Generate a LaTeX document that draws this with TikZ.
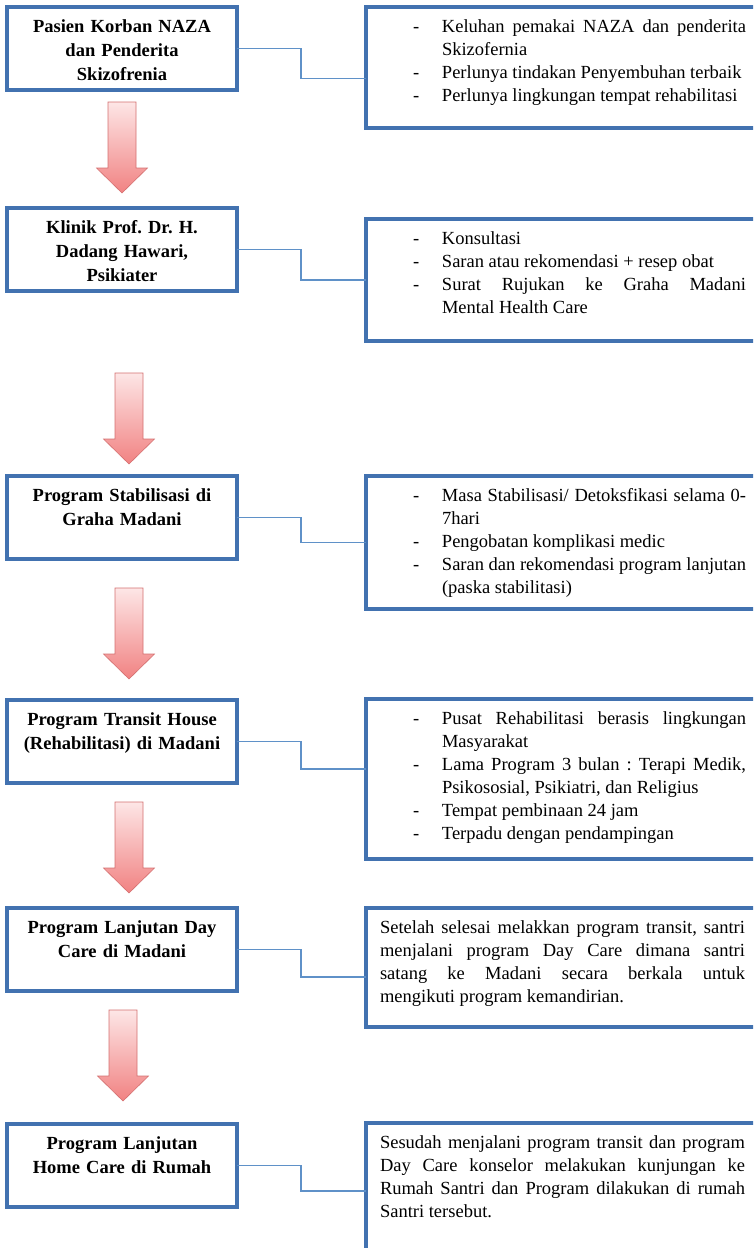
\documentclass[tikz,border=0pt]{standalone}
\usepackage{fontspec}
\setmainfont{Liberation Serif}
\usetikzlibrary{calc,positioning}
\definecolor{boxblue}{RGB}{66,114,176}
\definecolor{lnkblue}{RGB}{95,145,200}
\definecolor{arrtop}{RGB}{253,230,230}
\definecolor{arrbot}{RGB}{241,130,130}
\definecolor{arredge}{RGB}{212,112,112}
\hyphenpenalty=10000
\exhyphenpenalty=10000
\frenchspacing
% one dash item of a list box
\newcommand{\ditem}[1]{\hangindent=29pt\hangafter=1\makebox[29pt][l]{-}#1\par}
% one block arrow: name, x of its axis, top of its shaft
\newcommand{\flowarrow}[3]{%
  \coordinate (#1) at (#2,#3);
  \shade[flow] ($(#1)+(-14,0)$) -- ++(28,0) -- ++(0,66) -- ++(11.5,0)
    -- ++(-25.5,25) -- ++(-25.5,-25) -- ++(11.5,0) -- cycle;}

\begin{document}
\begin{tikzpicture}[x=1pt, y=-1pt,
  font=\fontsize{18.5}{23}\selectfont\frenchspacing,
  lbox/.style={draw=boxblue, line width=3.3pt, anchor=north west, outer sep=0pt,
               inner xsep=2pt, inner ysep=0pt, text width=226pt, align=center,
               font=\fontsize{18.5}{24}\selectfont\frenchspacing\bfseries,
               text height=25pt, text depth=58pt},
  rbox/.style={draw=boxblue, line width=3.3pt, anchor=north west, outer sep=0pt,
               inner xsep=47pt, inner ysep=0pt, text width=333pt, align=justify,
               text height=25pt},
  pbox/.style={rbox, inner xsep=14pt, text width=365pt},
  link/.style={draw=lnkblue, line width=1.3pt},
  flow/.style={top color=arrtop, bottom color=arrbot, draw=arredge, line width=0.6pt},
]
\useasboundingbox (0,0) rectangle (753,1248);
\clip (0,0) rectangle (753,1248);

% ---------- steps ----------
\node[lbox] (l1) at (7,7)    {Pasien Korban NAZA\\dan Penderita\\Skizofrenia};
\node[lbox] (l2) at (7,208)  {Klinik Prof. Dr. H.\\Dadang Hawari,\\Psikiater};
\node[lbox] (l3) at (7,476)  {Program Stabilisasi di\\Graha Madani};
\node[lbox] (l4) at (7,700)  {Program Transit House\\(Rehabilitasi) di Madani};
\node[lbox] (l5) at (7,908)  {Program Lanjutan Day\\Care di Madani};
\node[lbox] (l6) at (7,1124) {Program Lanjutan\\Home Care di Rumah};

% ---------- arrows between steps ----------
\flowarrow{a1}{122}{102}
\flowarrow{a2}{129}{373}
\flowarrow{a3}{129}{588}
\flowarrow{a4}{129}{802}
\flowarrow{a5}{123}{1010}

% ---------- notes ----------
\node[rbox, text depth=96pt] (r1) at (366,7) {%
  \ditem{Keluhan pemakai NAZA dan penderita\linebreak Skizofernia}
  \ditem{Perlunya tindakan Penyembuhan terbaik}
  \ditem{Perlunya lingkungan tempat rehabilitasi}};
\node[rbox, text depth=97pt] (r2) at (366,219) {%
  \ditem{Konsultasi}
  \ditem{Saran atau rekomendasi + resep obat}
  \ditem{Surat Rujukan ke Graha Madani\linebreak Mental Health Care}};
\node[rbox, text depth=108pt] (r3) at (366,476) {%
  \ditem{Masa Stabilisasi/ Detoksfikasi selama 0-\linebreak 7hari}
  \ditem{Pengobatan komplikasi medic}
  \ditem{Saran dan rekomendasi program lanjutan\linebreak (paska stabilitasi)}};
\node[rbox, text depth=135pt] (r4) at (366,699) {%
  \ditem{Pusat Rehabilitasi berasis lingkungan\linebreak Masyarakat}
  \ditem{Lama Program 3 bulan : Terapi Medik,\linebreak Psikososial, Psikiatri, dan Religius}
  \ditem{Tempat pembinaan 24 jam}
  \ditem{Terpadu dengan pendampingan}};
\node[pbox, text depth=94pt] (r5) at (366,908) {%
  Setelah selesai melakkan program transit, santri\linebreak
  menjalani program Day Care dimana santri\linebreak
  satang ke Madani secara berkala untuk\linebreak
  mengikuti program kemandirian.};
\node[pbox, text depth=175pt] (r6) at (366,1123) {%
  Sesudah menjalani program transit dan program\linebreak
  Day Care konselor melakukan kunjungan ke\linebreak
  Rumah Santri dan Program dilakukan di rumah\linebreak
  Santri tersebut.};

% ---------- links ----------
\draw[link] (l1.east) -- ++(64,0) |- ([yshift=-11pt]r1.west);
\draw[link] (l2.east) -- ++(64,0) |- (r2.west);
\draw[link] (l3.east) -- ++(64,0) |- (r3.west);
\draw[link] (l4.east) -- ++(64,0) |- ([yshift=10pt]r4.west);
\draw[link] (l5.east) -- ++(64,0) |- ([yshift=-9.5pt]r5.west);
\draw[link] (l6.east) -- ++(64,0) |- ([yshift=-68pt]r6.north west);
\end{tikzpicture}
\end{document}
